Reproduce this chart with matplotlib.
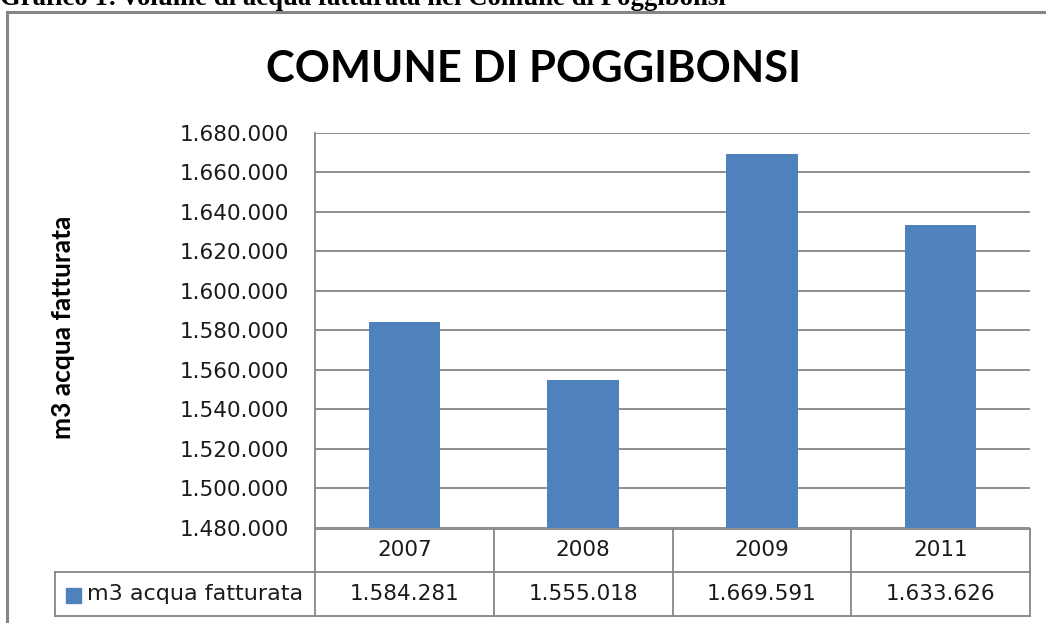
import matplotlib
matplotlib.use('Agg')
import matplotlib.pyplot as plt
import matplotlib.transforms as mtrans
from matplotlib.ticker import FuncFormatter, MultipleLocator

anni = ['2007', '2008', '2009', '2011']
m3_fatturati = [1584281, 1555018, 1669591, 1633626]
serie = 'm3 acqua fatturata'
titolo = 'COMUNE DI POGGIBONSI'
didascalia = 'Grafico 1: volume di acqua fatturata nel Comune di Poggibonsi'

W, H = 1046, 623
blu = '#4F81BD'
grigio = '#868686'
testo = '#1a1a1a'
fs = 15.5


def punti(n):
    # formato italiano: 1.584.281
    return f'{int(n):,}'.replace(',', '.')


def fx(px):
    return px / W


def fy(py):
    return 1 - py / H


fig = plt.figure(figsize=(W / 100, H / 100), dpi=100)
plt.rcParams['font.family'] = ['DejaVu Sans']

# cornice esterna del grafico (solo lati alto e sinistro visibili)
fig.add_artist(plt.Line2D([fx(7), fx(7)], [fy(12), 0], color=grigio, lw=2.2))
fig.add_artist(plt.Line2D([fx(7), 1], [fy(12), fy(12)], color=grigio, lw=2.2))

# didascalia tagliata in alto, come nella pagina originale
fig.text(0, fy(5), didascalia, family='Liberation Serif', weight='bold',
         fontsize=19.3, va='baseline', ha='left')
fig.text(fx(533), fy(69), titolo, family='Lato', weight='bold', fontsize=31.3,
         ha='center', va='center')

ax = fig.add_axes([fx(315), fy(528), fx(1030) - fx(315), fy(133) - fy(528)])
x = range(len(anni))
ax.bar(x, m3_fatturati, width=0.4, color=blu, zorder=3)
ax.set_xlim(-0.5, len(anni) - 0.5)
ax.set_ylim(1480000, 1680000)
ax.yaxis.set_major_locator(MultipleLocator(20000))
ax.yaxis.set_major_formatter(FuncFormatter(lambda v, p: punti(v)))
ax.tick_params(axis='y', length=0, pad=19, labelsize=fs, labelcolor=testo)
ax.tick_params(axis='x', length=0, labelbottom=False)
ax.grid(axis='y', color=grigio, lw=1.3, zorder=0)
for s in ['top', 'right', 'bottom']:
    ax.spines[s].set_visible(False)
ax.spines['left'].set_color(grigio)
ax.spines['left'].set_linewidth(1.3)

fig.text(fx(63), fy(327), serie, family='Lato', weight='bold', fontsize=19,
         rotation=90, ha='center', va='center')

# tabella dati sotto il grafico
tr = mtrans.blended_transform_factory(ax.transData, fig.transFigure)
r0, r1, r2 = fy(529), fy(572), fy(616)
lk = dict(color=grigio, lw=1.3, clip_on=False)
fig.add_artist(plt.Line2D([fx(315), fx(1030)], [r0, r0], **lk))
fig.add_artist(plt.Line2D([fx(55), fx(1030)], [r1, r1], **lk))
fig.add_artist(plt.Line2D([fx(55), fx(1030)], [r2, r2], **lk))
fig.add_artist(plt.Line2D([fx(55), fx(55)], [r1, r2], **lk))
fig.add_artist(plt.Line2D([fx(315), fx(315)], [r0, r2], **lk))
for i in range(len(anni)):
    xb = i + 0.5
    fig.add_artist(plt.Line2D([xb, xb], [r0, r2], transform=tr, **lk))
for i, (a, v) in enumerate(zip(anni, m3_fatturati)):
    fig.text(i, (r0 + r1) / 2, a, transform=tr, ha='center', va='center',
             fontsize=fs, color=testo)
    fig.text(i, (r1 + r2) / 2, punti(v), transform=tr, ha='center', va='center',
             fontsize=fs, color=testo)
fig.add_artist(plt.Rectangle((fx(66), fy(603)), fx(15), 15 / H, color=blu))
fig.text(fx(87), (r1 + r2) / 2, serie, ha='left', va='center', fontsize=16,
         color=testo)

fig.savefig('out.png', dpi=100)
